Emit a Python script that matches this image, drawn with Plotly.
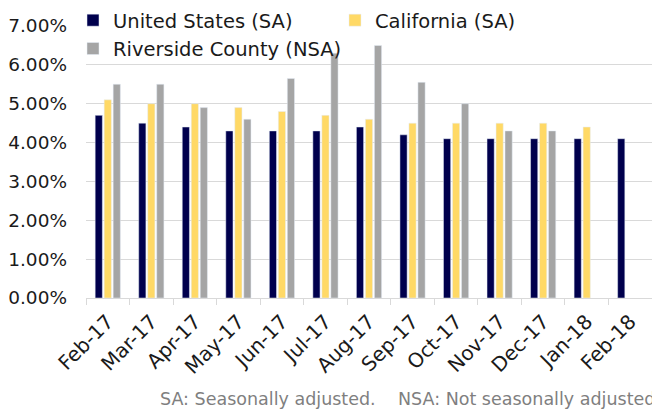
import plotly.graph_objects as go

months = ["Feb-17", "Mar-17", "Apr-17", "May-17", "Jun-17", "Jul-17", "Aug-17",
          "Sep-17", "Oct-17", "Nov-17", "Dec-17", "Jan-18", "Feb-18"]
us_sa = [4.7, 4.5, 4.4, 4.3, 4.3, 4.3, 4.4, 4.2, 4.1, 4.1, 4.1, 4.1, 4.1]
ca_sa = [5.1, 5.0, 5.0, 4.9, 4.8, 4.7, 4.6, 4.5, 4.5, 4.5, 4.5, 4.4, None]
riv_nsa = [5.5, 5.5, 4.9, 4.6, 5.65, 6.3, 6.5, 5.55, 5.0, 4.3, 4.3, None, None]

FONT = "DejaVu Sans"
W, H = 652, 409
L, R, T, B = 86, 0, 26, 111
pw = W - L - R
ph = H - T - B

def px_x(x):
    return (x - L) / pw

def px_y(y):
    return (H - B - y) / ph

fig = go.Figure()
fig.add_bar(x=months, y=us_sa, name="United States (SA)", marker_color="#00004D")
fig.add_bar(x=months, y=ca_sa, name="California (SA)", marker_color="#FFD966")
fig.add_bar(x=months, y=riv_nsa, name="Riverside County (NSA)", marker_color="#A5A5A5")

fig.update_layout(
    width=W, height=H,
    margin=dict(l=L, r=R, t=T, b=B),
    paper_bgcolor="white", plot_bgcolor="white",
    barmode="group", bargap=0.38, bargroupgap=0.2,
    font=dict(family=FONT, color="#1a1a1a"),
    showlegend=True,
    legend=dict(
        orientation="h", x=px_x(73), y=px_y(1), xanchor="left", yanchor="top",
        font=dict(size=19.5, color="#1a1a1a"), entrywidth=217, entrywidthmode="pixels",
        bgcolor="rgba(0,0,0,0)", itemwidth=30, tracegroupgap=0,
    ),
    xaxis=dict(
        type="category", showline=True, linecolor="#D9D9D9", linewidth=1,
        ticks="outside", tickson="boundaries", ticklen=6, tickcolor="#D9D9D9",
        tickangle=-45, tickfont=dict(size=20, color="#1a1a1a"),
        ticklabelstandoff=3,
        showgrid=False, range=[-0.5, 12.5],
    ),
    yaxis=dict(
        range=[0, 7], dtick=1, tickformat=".2f", ticksuffix="%",
        showgrid=True, gridcolor="#D9D9D9", gridwidth=1, zeroline=False,
        tickfont=dict(size=18.5, color="#1a1a1a"), ticklabelstandoff=18,
    ),
    annotations=[
        dict(text="SA: Seasonally adjusted.", x=px_x(158), y=px_y(399),
             xref="paper", yref="paper", xanchor="left", yanchor="middle",
             showarrow=False, font=dict(size=17.5, color="#7F7F7F", family=FONT)),
        dict(text="NSA: Not seasonally adjusted.", x=px_x(396), y=px_y(399),
             xref="paper", yref="paper", xanchor="left", yanchor="middle",
             showarrow=False, font=dict(size=17.5, color="#7F7F7F", family=FONT)),
    ],
)

fig.write_html(
    "out.html",
    config={"displayModeBar": False},
    post_script="document.body.style.margin='0';document.body.style.overflow='hidden';",
)
